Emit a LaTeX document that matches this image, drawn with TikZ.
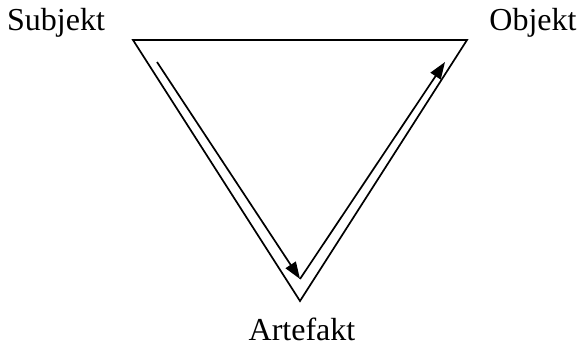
\documentclass[tikz,border=0pt]{standalone}
\usepackage{fontspec}
\setmainfont{Liberation Serif}
\usetikzlibrary{arrows.meta}
\begin{document}
\begin{tikzpicture}[x=1pt,y=-1pt,
  edge/.style={line width=1.7pt,line join=miter},
  flow/.style={line width=1.7pt,-{Triangle[length=17pt,width=12pt]}},
  lbl/.style={font=\fontsize{32}{36}\selectfont,inner sep=0pt,anchor=base}]
\useasboundingbox (0,0) rectangle (578,346);
\coordinate (tl) at (133,40);
\coordinate (tr) at (467,40);
\coordinate (bt) at (300,301);
\coordinate (s) at (157,62);
\coordinate (m) at (300,279);
\coordinate (e) at (445,62);
\draw[edge] (tl) -- (tr) -- (bt) -- cycle;
\draw[flow] (s) -- (m);
\draw[flow] (m) -- (e);
\node[lbl] (subj) at (56,30) {Subjekt};
\node[lbl] (obj) at (533,30) {Objekt};
\node[lbl] (art) at (302,340) {Artefakt};
\end{tikzpicture}
\end{document}
